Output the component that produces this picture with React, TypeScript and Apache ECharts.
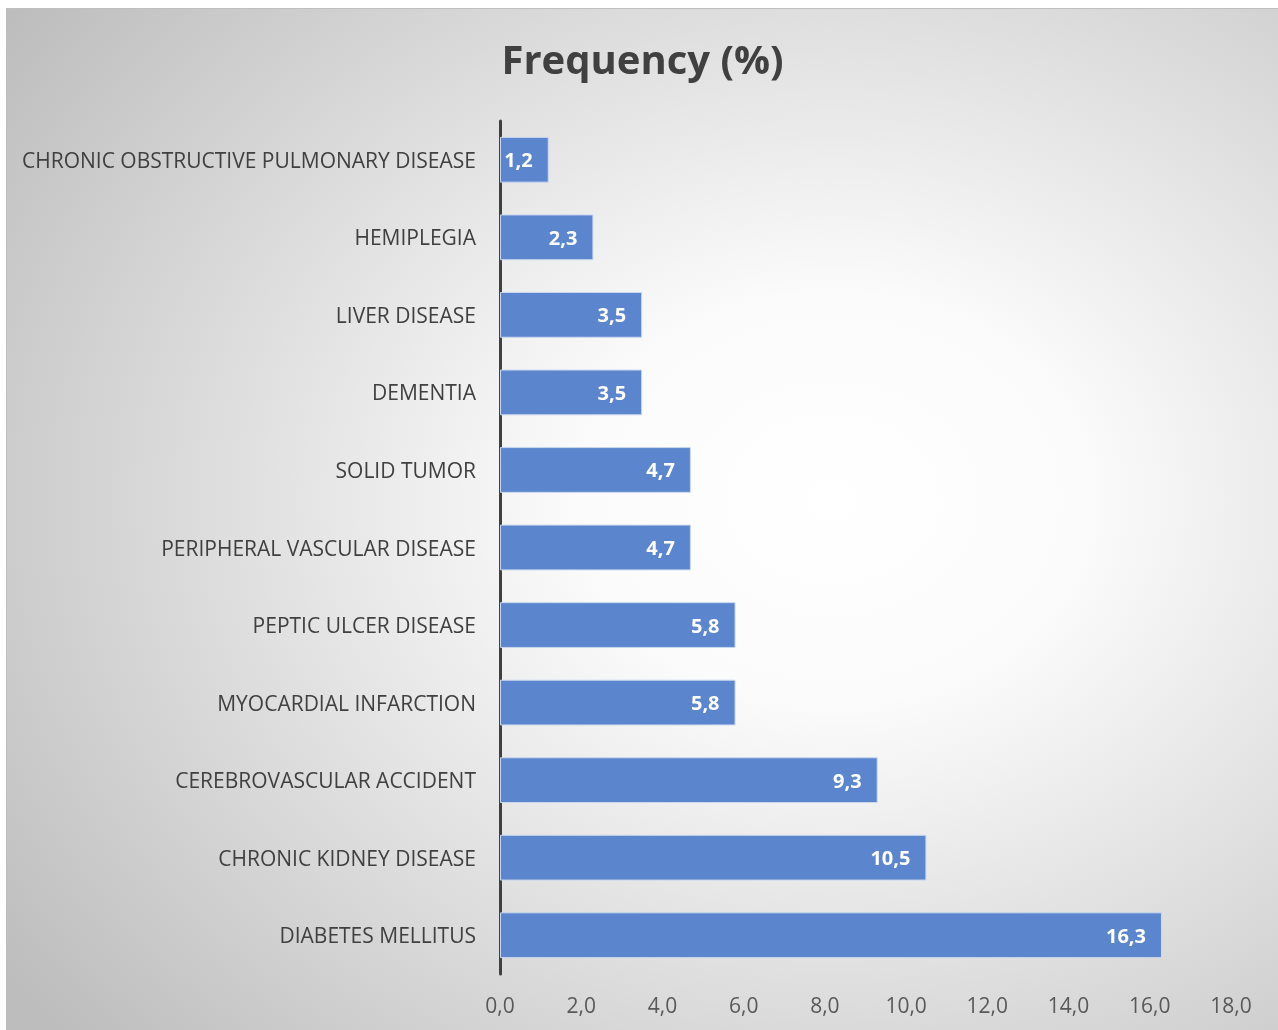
import React, { useEffect, useRef } from "react";
import * as echarts from "echarts";

const categories = [
  "CHRONIC OBSTRUCTIVE PULMONARY DISEASE",
  "HEMIPLEGIA",
  "LIVER DISEASE",
  "DEMENTIA",
  "SOLID TUMOR",
  "PERIPHERAL VASCULAR DISEASE",
  "PEPTIC ULCER DISEASE",
  "MYOCARDIAL INFARCTION",
  "CEREBROVASCULAR ACCIDENT",
  "CHRONIC KIDNEY DISEASE",
  "DIABETES MELLITUS",
];
const frequency = [1.2, 2.3, 3.5, 3.5, 4.7, 4.7, 5.8, 5.8, 9.3, 10.5, 16.3];
const xMin = 0;
const xMax = 18;
const xStep = 2;

const fmt = (v: number) => Number(v).toFixed(1).replace(".", ",");
const FONT = "'Open Sans', 'Noto Sans', sans-serif";

export default function App() {
  const ref = useRef<HTMLDivElement>(null);
  useEffect(() => {
    if (!ref.current) return;
    const chart = echarts.init(ref.current, null, { renderer: "svg" });
    chart.setOption({
      animation: false,
      backgroundColor: new echarts.graphic.RadialGradient(0.65, 0.48, 0.8, [
        { offset: 0, color: "#ffffff" },
        { offset: 0.25, color: "#fbfbfb" },
        { offset: 1, color: "#bdbdbd" },
      ]),
      title: {
        text: "Frequency (%)",
        left: "center",
        top: 24,
        textStyle: { fontSize: 40, fontWeight: "bold", color: "#404040", fontFamily: FONT },
      },
      grid: { left: 493, right: 47, top: 112, bottom: 56, containLabel: false },
      xAxis: {
        type: "value",
        min: xMin,
        max: xMax,
        interval: xStep,
        axisLine: { show: false },
        axisTick: { show: false },
        splitLine: { show: false },
        axisLabel: {
          formatter: (v: number) => fmt(v),
          color: "#595959",
          fontSize: 21,
          fontFamily: FONT,
          margin: 20,
        },
      },
      yAxis: {
        type: "category",
        data: categories,
        inverse: true,
        axisLine: { show: true, lineStyle: { color: "#404040", width: 3 } },
        axisTick: { show: false },
        axisLabel: {
          color: "#404040",
          fontSize: 21,
          fontFamily: FONT,
          margin: 24,
        },
      },
      series: [
        {
          type: "bar",
          data: frequency,
          barCategoryGap: "41%",
          itemStyle: { color: "#5b86cd", borderColor: "#c9d7ee", borderWidth: 1 },
          label: {
            show: true,
            position: "insideRight",
            formatter: (p: any) => fmt(p.value),
            color: "#ffffff",
            fontWeight: "bold",
            fontSize: 20,
            fontFamily: FONT,
            distance: 16,
          },
        },
      ],
    });
    return () => chart.dispose();
  }, []);
  return (
    <div
      ref={ref}
      style={{
        position: "fixed",
        left: 6,
        top: 8,
        width: 1272,
        height: 1022,
        borderLeft: "1px solid #bfbfbf",
        borderTop: "1px solid #bfbfbf",
        boxSizing: "border-box",
      }}
    />
  );
}
